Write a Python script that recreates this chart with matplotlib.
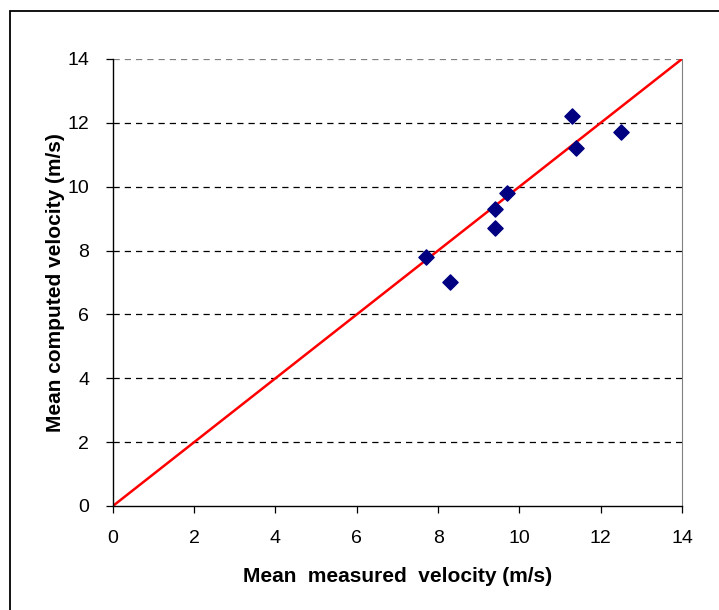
import numpy as np
import matplotlib
matplotlib.use("Agg")
from matplotlib import pyplot as plt
from matplotlib.patches import Rectangle

plt.rcParams['font.family'] = ['Liberation Sans', 'DejaVu Sans']

# measured vs computed mean velocity (m/s)
measured = [7.7, 8.3, 9.4, 9.4, 9.7, 11.3, 11.4, 12.5]
computed = [7.8, 7.0, 9.3, 8.7, 9.8, 12.2, 11.2, 11.7]
line_x = [0, 14]
line_y = [0, 14]
ticks = [0, 2, 4, 6, 8, 10, 12, 14]

fig = plt.figure(figsize=(7.19, 6.10), dpi=100)
ax = fig.add_axes([0.157, 0.1705, 0.7915, 0.7328])

# outer frame of the chart (runs off the right and bottom edges)
fig.patches.append(Rectangle((10 / 719, -10 / 610), 720 / 719, 609 / 610,
                             transform=fig.transFigure, fill=False,
                             edgecolor='black', linewidth=1.3))

for yv in ticks[1:]:
    ax.axhline(yv, color='black' if yv < 14 else '#808080', linestyle=(0, (5, 4)),
               linewidth=0.9, zorder=1)

ax.plot(line_x, line_y, color='red', linewidth=1.8, zorder=2)
ax.scatter(measured, computed, marker='D', s=60, color='#000080', zorder=3)

ax.set_xlim(0, 14)
ax.set_ylim(0, 14)
ax.set_xticks(ticks)
ax.set_yticks(ticks)
ax.tick_params(direction='out', length=5, width=0.9, labelsize=14, pad=12)
ax.spines['top'].set_visible(False)
ax.spines['right'].set_color('#808080')
for s in ['left', 'bottom']:
    ax.spines[s].set_linewidth(1.0)

ax.set_xlabel('Mean  measured  velocity (m/s)', fontsize=15, fontweight='bold', labelpad=14.5)
ax.set_ylabel('Mean computed velocity (m/s)', fontsize=15, fontweight='bold', labelpad=2)

fig.savefig('out.png', dpi=100)
